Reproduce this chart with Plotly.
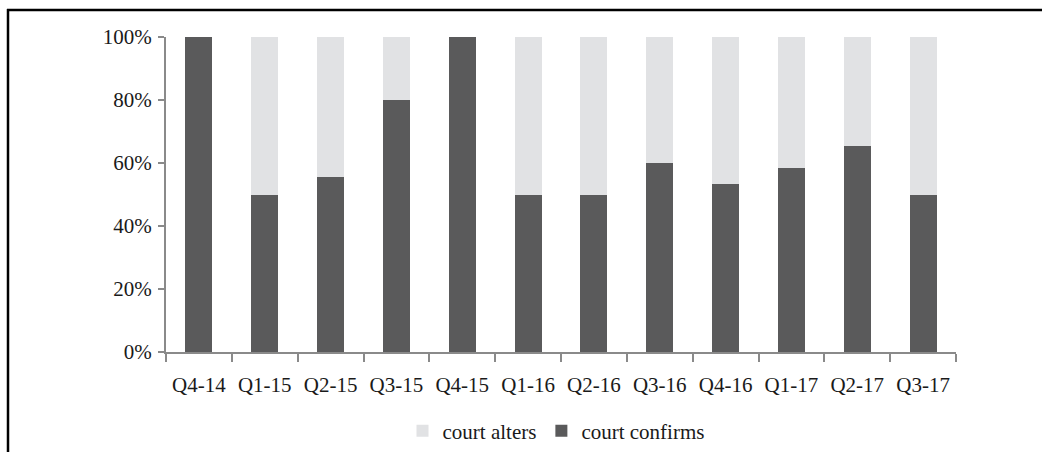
import plotly.graph_objects as go

quarters = ["Q4-14", "Q1-15", "Q2-15", "Q3-15", "Q4-15", "Q1-16", "Q2-16",
            "Q3-16", "Q4-16", "Q1-17", "Q2-17", "Q3-17"]
court_confirms = [100, 50, 55.6, 80, 100, 50, 50, 60, 53.3, 58.4, 65.4, 50]
court_alters = [round(100 - v, 1) for v in court_confirms]

DARK = "#5a5a5b"
LIGHT = "#e1e2e4"
AXIS = "#8a8a8a"
FONT = dict(family="Liberation Serif, Times New Roman, serif", size=21, color="#1a1a1a")

fig = go.Figure()
fig.add_trace(go.Bar(x=quarters, y=court_confirms, name="court confirms",
                     marker=dict(color=DARK, line=dict(width=0))))
fig.add_trace(go.Bar(x=quarters, y=court_alters, name="court alters",
                     marker=dict(color=LIGHT, line=dict(width=0))))

L, R, T, B = 166, 86, 37, 100
W, H = 1042, 452
pw, ph = W - L - R, H - T - B

def px(x):
    return (x - L) / pw

def py(y):
    return (H - B - y) / ph

# outer frame (left and top lines)
fig.add_shape(type="line", xref="paper", yref="paper",
              x0=px(8), x1=px(8), y0=py(9), y1=py(460),
              line=dict(color="black", width=2.5))
fig.add_shape(type="line", xref="paper", yref="paper",
              x0=px(7), x1=px(1050), y0=py(10), y1=py(10),
              line=dict(color="black", width=2.5))

fig.update_layout(
    width=W, height=H,
    margin=dict(l=L, r=R, t=T, b=B, autoexpand=False),
    barmode="stack",
    bargap=0.59,
    plot_bgcolor="white",
    paper_bgcolor="white",
    font=FONT,
    showlegend=True,
    legend=dict(orientation="h", x=px(556), xanchor="center", y=py(431), yanchor="middle",
                traceorder="reversed", font=FONT, itemwidth=30,
                bgcolor="rgba(0,0,0,0)"),
    xaxis=dict(type="category", showline=True, linecolor=AXIS, linewidth=2,
               ticks="outside", tickson="boundaries", ticklen=8, tickwidth=2,
               tickcolor=AXIS, showgrid=False, ticklabelstandoff=13,
               range=[-0.5, 11.5], fixedrange=True, automargin=False),
    yaxis=dict(range=[0, 100], tickvals=[0, 20, 40, 60, 80, 100],
               ticktext=["0%", "20%", "40%", "60%", "80%", "100%"],
               showline=True, linecolor=AXIS, linewidth=2,
               ticks="outside", ticklen=6, tickwidth=2, tickcolor=AXIS,
               showgrid=False, zeroline=False, ticklabelstandoff=2,
               automargin=False),
)

fig.write_html(
    "out.html",
    config={"displayModeBar": False},
    post_script="document.body.style.margin='0px';document.body.style.overflow='hidden';",
)
